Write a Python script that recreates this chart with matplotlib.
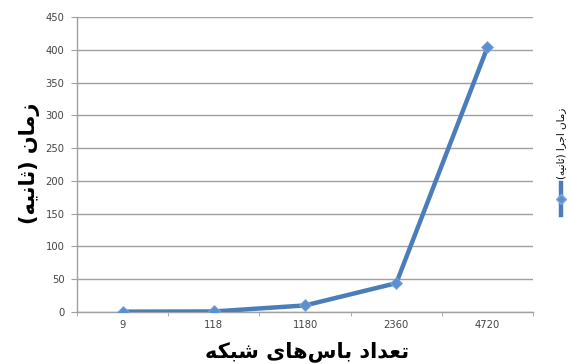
import numpy as np
import matplotlib.pyplot as plt

# داده‌ها
buses = ['9', '118', '1180', '2360', '4720']
run_time = [0.5, 0.8, 10, 44, 404]

# متن فارسی به صورت شکل‌های نمایشی (ترتیب دیداری چپ به راست)
ylabel_txt = '(\uFEEA\uFBFF\uFEE7\uFE8E\uFE9B) \uFEE5\uFE8E\uFEE3\uFEAF'
xlabel_txt = ('\uFEEA\uFB91\uFE92\uFEB7 '
              '\uFBFC\uFE8E\uFEEB\uFEB1\uFE8E\uFE91 '
              '\uFEA9\uFE8D\uFEAA\uFECC\uFE97')
legend_txt = '(\uFEEA\uFBFF\uFEE7\uFE8E\uFE9B) \uFE8D\uFEAE\uFE9F\uFE8D \uFEE5\uFE8E\uFEE3\uFEAF'

blue = '#4A7EBB'
grid = '#A0A0A0'

fig = plt.figure(figsize=(5.72, 3.64), dpi=100)
ax = fig.add_axes([0.1346, 0.1429, 0.7974, 0.8104])

x = np.arange(len(buses))
ax.plot(x, run_time, color=blue, lw=3.2, marker='D', ms=6,
        mfc='#5B8FD0', mec='#7FA8DC', mew=0.6, zorder=3)

ax.set_xlim(-0.5, len(buses) - 0.5)
ax.set_ylim(0, 450)
ax.set_yticks(np.arange(0, 451, 50))
ax.set_xticks(x)
ax.set_xticklabels(buses)
ax.set_xticks(np.arange(-0.5, len(buses), 1), minor=True)
ax.tick_params(axis='x', which='major', length=0, pad=6, labelsize=7.2, labelcolor='#444444')
ax.tick_params(axis='x', which='minor', length=3, color=grid, direction='out')
ax.tick_params(axis='y', length=4, color=grid, labelsize=7.2, labelcolor='#444444', pad=5)

ax.yaxis.grid(True, color=grid, lw=1.0)
ax.set_axisbelow(True)
for s in ['top', 'right']:
    ax.spines[s].set_visible(False)
for s in ['left', 'bottom']:
    ax.spines[s].set_color(grid)
    ax.spines[s].set_linewidth(1.0)

fig.text(0.052, 0.55, ylabel_txt, rotation=90, ha='center', va='center',
         fontsize=15, fontweight='bold', family='DejaVu Sans')
fig.text(0.536, 0.035, xlabel_txt, ha='center', va='center',
         fontsize=15, fontweight='bold', family='DejaVu Sans')

# راهنما
fig.text(0.981, 0.508, legend_txt, rotation=90, ha='center', va='bottom',
         fontsize=7.5, family='DejaVu Sans')
fig.add_artist(plt.Line2D([0.981, 0.981], [0.41, 0.497], color=blue, lw=3.2,
                          transform=fig.transFigure))
fig.add_artist(plt.Line2D([0.981], [0.4535], color=blue, lw=0, marker='D', ms=5.5,
                          mfc='#5B8FD0', mec='#7FA8DC', transform=fig.transFigure))

fig.savefig('out.png', dpi=100, facecolor='white')
